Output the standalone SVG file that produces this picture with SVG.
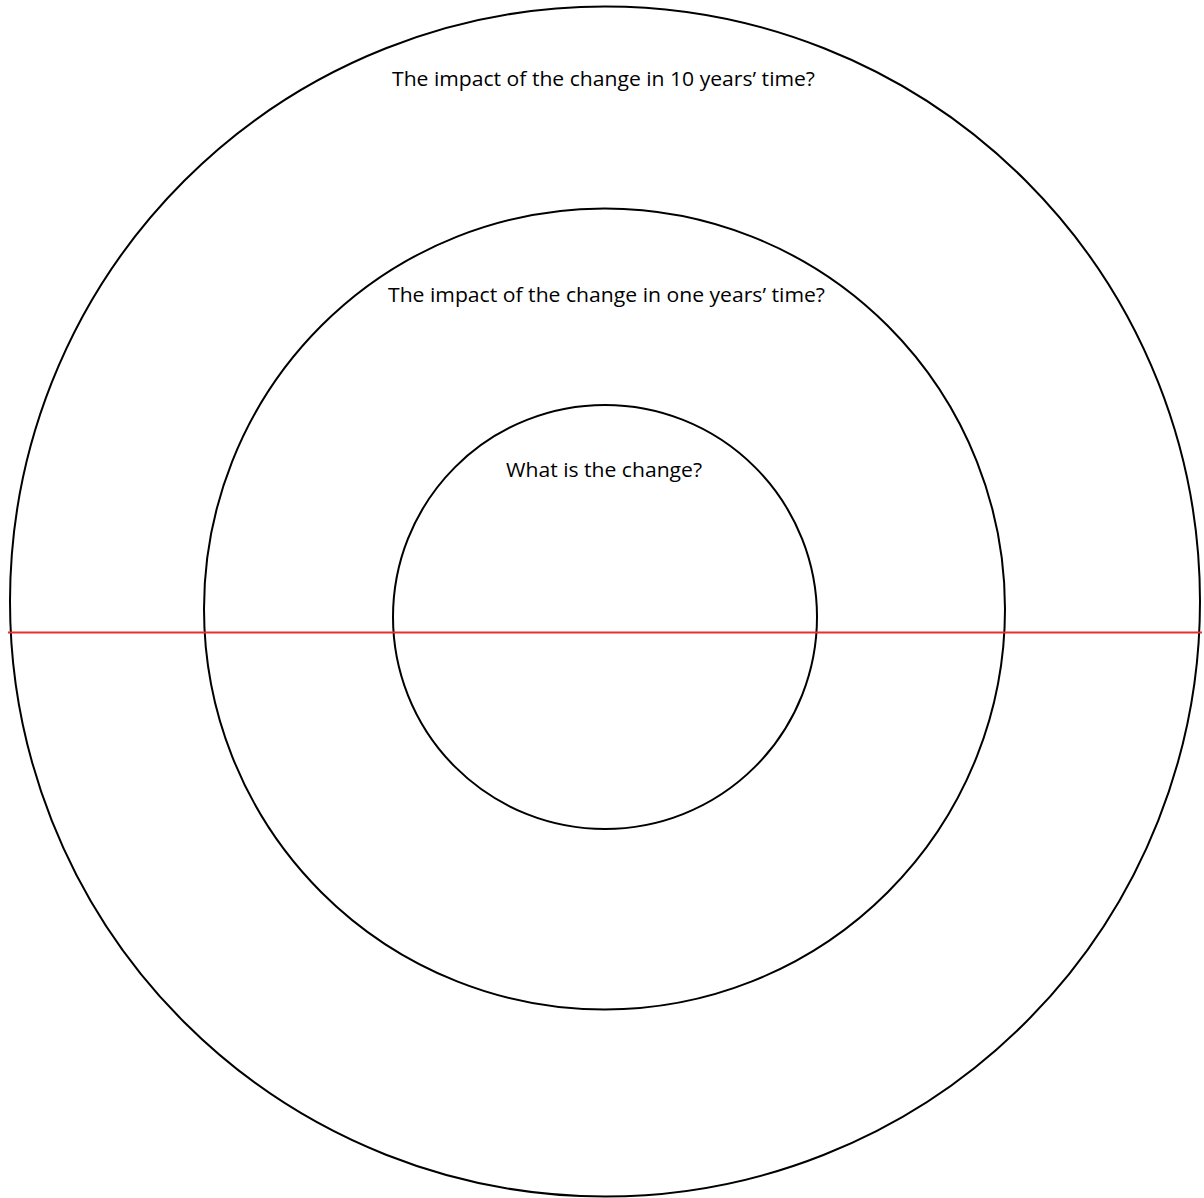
<svg xmlns="http://www.w3.org/2000/svg" width="1204" height="1198" viewBox="0 0 1204 1198">
<style>
.ring{fill:none;stroke:#000;stroke-width:2}
.lbl{font-family:"Open Sans","Liberation Sans",sans-serif;font-size:20px;fill:#000;text-anchor:middle}
.axis{stroke:#e8312b;stroke-width:2}
</style>
<rect width="1204" height="1198" fill="#fff"/>
<g id="outer">
<circle class="ring" cx="605" cy="601.5" r="595"/>
<text class="lbl" x="603.5" y="86" textLength="423" lengthAdjust="spacingAndGlyphs">The impact of the change in 10 years’ time?</text>
</g>
<g id="middle">
<circle class="ring" cx="604.5" cy="609" r="400.5"/>
<text class="lbl" x="606.5" y="302" textLength="437" lengthAdjust="spacingAndGlyphs">The impact of the change in one years’ time?</text>
</g>
<g id="inner">
<circle class="ring" cx="605" cy="617" r="212"/>
<text class="lbl" x="604" y="477" textLength="196" lengthAdjust="spacingAndGlyphs">What is the change?</text>
</g>
<g id="connectors">
<line class="axis" x1="8" y1="632.5" x2="1202" y2="632.5"/>
</g>
</svg>
